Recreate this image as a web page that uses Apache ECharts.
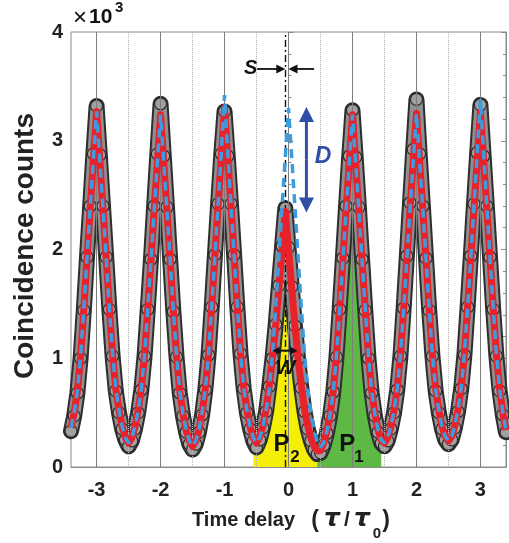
<!DOCTYPE html>
<html><head><meta charset="utf-8">
<script src="https://cdn.jsdelivr.net/npm/echarts@6/dist/echarts.min.js"></script>
<style>html,body{margin:0;padding:0;background:#fff}#c{width:509px;height:543px}</style>
</head><body><div id="c"></div>
<script>
// ---- data (counts in units of 10^3) ----
const delayStart = -3.4;
const delayStep = 0.05;
const measured = [
 0.33,0.47,0.68,1.00,1.44,1.93,2.40,2.88,3.32,2.87,
 2.40,1.93,1.45,1.02,0.70,0.50,0.35,0.25,0.19,0.24,
 0.35,0.50,0.71,1.02,1.45,1.91,2.40,2.88,3.34,2.86,
 2.39,1.91,1.43,1.01,0.68,0.47,0.32,0.21,0.16,0.21,
 0.32,0.48,0.71,1.03,1.47,1.95,2.42,2.88,3.27,2.86,
 2.42,1.95,1.47,1.04,0.72,0.50,0.35,0.24,0.18,0.25,
 0.36,0.51,0.74,1.00,1.31,1.67,2.03,2.38,2.02,1.66,
 1.30,0.99,0.73,0.51,0.35,0.24,0.16,0.12,0.13,0.20,
 0.31,0.47,0.69,1.01,1.45,1.92,2.40,2.86,3.28,2.85,
 2.39,1.91,1.44,1.00,0.68,0.47,0.32,0.22,0.19,0.24,
 0.35,0.50,0.71,1.02,1.46,1.94,2.43,2.92,3.38,2.88,
 2.40,1.92,1.44,1.02,0.70,0.50,0.35,0.25,0.21,0.25,
 0.36,0.51,0.72,1.03,1.47,1.94,2.42,2.89,3.33,2.86,
 2.40,1.93,1.45,1.02,0.70,0.48,0.32
];
const fit = [
 0.36,0.50,0.70,1.02,1.45,1.92,2.38,2.83,3.27,2.83,
 2.38,1.92,1.46,1.04,0.72,0.52,0.37,0.27,0.22,0.27,
 0.37,0.52,0.72,1.03,1.45,1.90,2.36,2.80,3.24,2.80,
 2.36,1.90,1.44,1.02,0.70,0.49,0.34,0.24,0.19,0.24,
 0.34,0.50,0.72,1.04,1.48,1.95,2.41,2.86,3.30,2.86,
 2.41,1.95,1.48,1.05,0.73,0.52,0.37,0.27,0.22,0.28,
 0.38,0.53,0.75,1.00,1.30,1.65,2.00,2.35,2.00,1.65,
 1.30,1.00,0.75,0.53,0.38,0.27,0.19,0.15,0.15,0.22,
 0.33,0.48,0.70,1.02,1.45,1.90,2.36,2.80,3.24,2.80,
 2.36,1.90,1.45,1.02,0.70,0.49,0.34,0.25,0.22,0.27,
 0.37,0.52,0.72,1.03,1.45,1.91,2.37,2.81,3.25,2.81,
 2.37,1.91,1.45,1.03,0.72,0.52,0.37,0.28,0.24,0.28,
 0.38,0.53,0.73,1.04,1.47,1.92,2.38,2.82,3.26,2.82,
 2.38,1.92,1.46,1.04,0.72,0.50,0.34
];
const model = [
 0.36,0.50,0.70,1.02,1.45,1.92,2.38,2.83,3.27,2.83,
 2.38,1.92,1.46,1.04,0.72,0.52,0.37,0.27,0.22,0.27,
 0.37,0.52,0.72,1.03,1.45,1.90,2.36,2.80,3.24,2.80,
 2.36,1.90,1.44,1.02,0.70,0.49,0.34,0.24,0.19,0.24,
 0.34,0.50,0.72,1.04,1.48,1.95,2.42,2.90,3.42,2.90,
 2.42,1.95,1.48,1.05,0.73,0.52,0.37,0.27,0.22,0.27,
 0.37,0.52,0.72,1.04,1.47,1.93,2.40,2.85,3.30,2.85,
 2.40,1.93,1.47,1.04,0.72,0.50,0.34,0.23,0.18,0.22,
 0.33,0.48,0.70,1.02,1.45,1.90,2.36,2.80,3.24,2.80,
 2.36,1.90,1.45,1.02,0.70,0.49,0.34,0.25,0.22,0.27,
 0.37,0.52,0.72,1.03,1.45,1.91,2.37,2.81,3.25,2.81,
 2.37,1.91,1.45,1.03,0.72,0.52,0.37,0.28,0.24,0.28,
 0.38,0.53,0.73,1.04,1.47,1.93,2.40,2.88,3.38,2.88,
 2.40,1.92,1.46,1.04,0.72,0.50,0.34
];
const xTicks = [-3, -2, -1, 0, 1, 2, 3];
const halfTicks = [-2.5, -1.5, -0.5, 0.5, 1.5, 2.5];
const yTicks = [0, 1, 2, 3, 4];
const shiftS = -0.05;          // dash-dot reference line
const areaP2 = [-0.55, 0.45];  // yellow
const areaP1 = [0.45, 1.45];   // green
// annotation anchors (data coords)
const annS = {text: [-0.59, 3.66], arrowL: [-0.49, -0.05], arrowR: [0.40, 0.0], y: 3.66};
const annD = {x: 0.28, y0: 3.31, y1: 2.34, text: [0.54, 2.85]};
const annW = {y: 1.07, x0: -0.25, x1: 0.14, text: [-0.05, 0.91]};
const annP2 = {p: [-0.11, 0.21], sub: [0.10, 0.085]};
const annP1 = {p: [0.92, 0.21], sub: [1.10, 0.085]};

// ---- build ----
const FONT = '"Liberation Sans", Arial, Helvetica, sans-serif';
const delays = fit.map((_, i) => Math.round((delayStart + i * delayStep) * 100) / 100);
const pairs = arr => arr.map((v, i) => [delays[i], v]);
const segment = (arr, lo, hi) => pairs(arr).filter(p => p[0] >= lo - 1e-9 && p[0] <= hi + 1e-9);

const chart = echarts.init(document.getElementById('c'), null, {renderer: 'canvas'});
const axisGray = '#8a8a8a';
const yAxisBase = {
  type: 'value', min: 0, max: 4, interval: 1,
  axisLine: {show: true, lineStyle: {color: axisGray, width: 1}},
  axisTick: {show: true, inside: true, length: 5, lineStyle: {color: axisGray}},
  minorTick: {show: true, splitNumber: 5, length: 3, lineStyle: {color: axisGray}},
  splitLine: {show: false}
};
const gridLines = xTicks.map(v => ({xAxis: v, lineStyle: {color: '#7e7e7e', width: 1, type: 'solid'}}))
  .concat(halfTicks.map(v => ({xAxis: v, lineStyle: {color: '#b5b5b5', width: 1, type: 'dotted'}})));

const option = {
  animation: false,
  grid: {left: 71, right: 2, top: 32, bottom: 76, show: true, borderColor: axisGray, borderWidth: 1},
  xAxis: {
    type: 'value', min: -3.4, max: 3.4, interval: 0.1,
    axisLine: {show: true, onZero: false, lineStyle: {color: axisGray}},
    axisTick: {show: false}, splitLine: {show: false},
    axisLabel: {
      margin: 13, color: '#222', fontSize: 20, fontWeight: 'bold', fontFamily: FONT,
      formatter: v => {
        const r = Math.round(v);
        return (Math.abs(v - r) < 1e-6 && xTicks.indexOf(r) >= 0) ? String(r) : '';
      }
    }
  },
  yAxis: [
    Object.assign({}, yAxisBase, {position: 'left',
      axisLabel: {margin: 8, color: '#222', fontSize: 20, fontWeight: 'bold', fontFamily: FONT,
        formatter: v => (yTicks.indexOf(v) >= 0 ? String(v) : '')}}),
    Object.assign({}, yAxisBase, {position: 'right', axisLabel: {show: false}})
  ],
  series: [
    {name: 'P2', type: 'line', z: 1, silent: true, symbol: 'none',
     data: segment(fit, areaP2[0], areaP2[1]),
     lineStyle: {width: 0}, areaStyle: {color: '#f5ef08', opacity: 1}},
    {name: 'P1', type: 'line', z: 2, silent: true, symbol: 'none',
     data: segment(fit, areaP1[0], areaP1[1]),
     lineStyle: {width: 0}, areaStyle: {color: '#5eb944', opacity: 1},
     markLine: {silent: true, symbol: 'none', label: {show: false}, animation: false, data: gridLines}},
    {name: 'bandEdge', type: 'line', z: 3, silent: true, symbol: 'none',
     data: pairs(measured), lineStyle: {color: '#2e2e2e', width: 16, join: 'round', cap: 'round'}},
    {name: 'measured', type: 'line', z: 4, silent: true, symbol: 'circle', symbolSize: 12, showAllSymbol: true,
     data: pairs(measured), lineStyle: {color: '#8f8f8f', width: 12, join: 'round', cap: 'round'},
     itemStyle: {color: '#a0a0a0', borderColor: '#2a2a2a', borderWidth: 1.2}},
    {name: 'fit', type: 'line', z: 5, silent: true, symbol: 'none',
     data: pairs(fit), lineStyle: {color: '#e8222b', width: 7, join: 'round'}},
    {name: 'model', type: 'line', z: 6, silent: true, symbol: 'none',
     data: pairs(model), lineStyle: {color: '#3c9ce0', width: 3.5, type: [9, 6]}},
    {name: 'ref', type: 'line', z: 7, silent: true, symbol: 'none', data: [],
     markLine: {silent: true, symbol: 'none', label: {show: false}, animation: false,
       data: [{xAxis: shiftS, lineStyle: {color: '#111', width: 1.4, type: [7, 3, 2, 3]}}]}}
  ]
};
chart.setOption(option);

// ---- annotations ----
const px = (x, y) => chart.convertToPixel({xAxisIndex: 0, yAxisIndex: 0}, [x, y]);
function arrow(p1, p2, color, width, hl, hw) {
  const dx = p2[0] - p1[0], dy = p2[1] - p1[1], L = Math.hypot(dx, dy);
  const ux = dx / L, uy = dy / L, nx = -uy, ny = ux;
  const bx = p2[0] - ux * hl, by = p2[1] - uy * hl;
  return [
    {type: 'line', z: 100, shape: {x1: p1[0], y1: p1[1], x2: p2[0] - ux * hl * 0.7, y2: p2[1] - uy * hl * 0.7},
     style: {stroke: color, lineWidth: width}},
    {type: 'polygon', z: 101, shape: {points: [[p2[0], p2[1]], [bx + nx * hw, by + ny * hw], [bx - nx * hw, by - ny * hw]]},
     style: {fill: color}}
  ];
}
function dbl(p1, p2, color, width, hl, hw) {
  const mid = [(p1[0] + p2[0]) / 2, (p1[1] + p2[1]) / 2];
  return arrow(mid, p1, color, width, hl, hw).concat(arrow(mid, p2, color, width, hl, hw));
}
function txt(x, y, text, font, fill, align) {
  return {type: 'text', z: 110, style: {x: x, y: y, text: text, font: font, fill: fill || '#111',
    align: align || 'center', verticalAlign: 'middle'}};
}
const g = [];
// S
const sT = px(annS.text[0], annS.text[1]);
g.push(txt(sT[0], sT[1], 'S', 'italic bold 20px ' + FONT));
g.push(...arrow(px(annS.arrowL[0], annS.y), px(annS.arrowL[1], annS.y), '#111', 1.8, 9, 4.5));
g.push(...arrow(px(annS.arrowR[0], annS.y), px(annS.arrowR[1], annS.y), '#111', 1.8, 9, 4.5));
// D
g.push(...dbl(px(annD.x, annD.y0), px(annD.x, annD.y1), '#2f4fa6', 3, 15, 7.5));
const dT = px(annD.text[0], annD.text[1]);
g.push(txt(dT[0], dT[1], 'D', 'italic bold 23px ' + FONT, '#2f4fa6'));
// W
g.push(...dbl(px(annW.x0, annW.y), px(annW.x1, annW.y), '#111', 2, 7, 4));
const wT = px(annW.text[0], annW.text[1]);
g.push(txt(wT[0], wT[1], 'W', 'italic bold 21px ' + FONT));
// P labels
[[annP2, '2'], [annP1, '1']].forEach(([a, s]) => {
  const p = px(a.p[0], a.p[1]), q = px(a.sub[0], a.sub[1]);
  g.push(txt(p[0], p[1], 'P', 'bold 24px ' + FONT));
  g.push(txt(q[0], q[1], s, 'bold 17px ' + FONT));
});
// ×10^3
g.push(txt(73, 18, '×', 'normal 24px ' + FONT, '#111', 'left'));
g.push(txt(89, 17.5, '10', 'bold 21px ' + FONT, '#111', 'left'));
g.push(txt(115, 8, '3', 'bold 15px ' + FONT, '#111', 'left'));
// axis titles
g.push({type: 'text', z: 110, rotation: Math.PI / 2, x: 25, y: 246,
  style: {x: 0, y: 0, text: 'Coincidence counts', font: 'bold 28px ' + FONT, fill: '#222', align: 'center', verticalAlign: 'middle'}});
const TAU = 'italic bold 25px "DejaVu Sans", ' + FONT;
g.push(txt(192, 520, 'Time delay', 'bold 20px ' + FONT, '#222', 'left'));
g.push(txt(315, 521, '(', 'bold 23px ' + FONT, '#222', 'center'));
g.push(txt(332, 519, 'τ', TAU, '#222', 'center'));
g.push(txt(347, 520, '/', 'bold 21px ' + FONT, '#222', 'center'));
g.push(txt(362, 519, 'τ', TAU, '#222', 'center'));
g.push(txt(377, 534, '0', 'bold 15px ' + FONT, '#222', 'center'));
g.push(txt(386, 521, ')', 'bold 23px ' + FONT, '#222', 'center'));
chart.setOption({graphic: {elements: g}});
</script></body></html>
